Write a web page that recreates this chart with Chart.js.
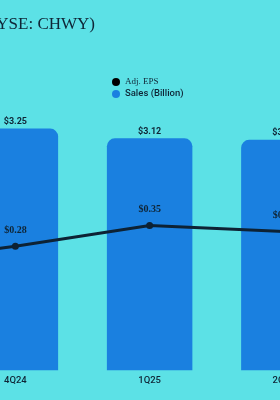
<!DOCTYPE html>
<html>
<head>
<meta charset="utf-8">
<script src="https://cdn.jsdelivr.net/npm/chart.js@4"></script>
<style>
    html, body { margin: 0; padding: 0; width: 280px; height: 400px; overflow: hidden; background: #5ce1e6; }
    #salesChart { position: absolute; left: -190px; top: 0; }
</style>
</head>
<body>
<canvas id="salesChart" width="545" height="400"></canvas>
<script>
const quarters = ["3Q24", "4Q24", "1Q25", "2Q25"];
const salesBillion = [2.88, 3.25, 3.12, 3.10];
const adjEps = [0.22, 0.28, 0.35, 0.33];
const chartTitle = "Chewy, Inc. (NYSE: CHWY)";
const seriesNames = ["Adj. EPS", "Sales (Billion)"];

const textColor = "#0f2536";
const barColor = "#1a80e0";
const lineColor = "#0d2234";
const shift = 190; // canvas sits 190px left of the window

// title, legend and value labels drawn by hand
const annotate = {
    id: "annotate",
    afterDatasetsDraw(chart) {
        const ctx = chart.ctx;
        ctx.save();
        ctx.fillStyle = textColor;

        // title (right end visible only)
        ctx.font = '17px "Liberation Serif"';
        ctx.textAlign = "right";
        ctx.textBaseline = "alphabetic";
        ctx.fillText(chartTitle, shift + 95, 29);

        // legend
        const legendFonts = ['9px "Liberation Serif"', '500 9.5px Roboto'];
        const legendColors = ["#000000", barColor];
        [82, 94].forEach((y, i) => {
            ctx.beginPath();
            ctx.fillStyle = legendColors[i];
            ctx.arc(shift + 116, y, 4, 0, Math.PI * 2);
            ctx.fill();
            ctx.fillStyle = textColor;
            ctx.font = legendFonts[i];
            ctx.textAlign = "left";
            ctx.textBaseline = "middle";
            ctx.fillText(seriesNames[i], shift + 125, y);
        });

        // value labels
        ctx.textAlign = "center";
        ctx.textBaseline = "middle";
        chart.getDatasetMeta(1).data.forEach((bar, i) => {
            ctx.font = "bold 9px Roboto";
            ctx.fillText("$" + salesBillion[i].toFixed(2), bar.x, bar.y - 7);
        });
        chart.getDatasetMeta(0).data.forEach((pt, i) => {
            ctx.font = 'bold 10px "Liberation Serif"';
            ctx.fillText("$" + adjEps[i].toFixed(2), pt.x, pt.y - 16);
        });
        ctx.restore();
    }
};

new Chart(document.getElementById("salesChart"), {
    type: "bar",
    data: {
        labels: quarters,
        datasets: [
            {
                type: "line",
                label: seriesNames[0],
                data: adjEps,
                yAxisID: "y2",
                borderColor: lineColor,
                borderWidth: 3,
                pointRadius: 3.5,
                pointBackgroundColor: lineColor,
                pointBorderWidth: 0,
                tension: 0,
                order: 0
            },
            {
                label: seriesNames[1],
                data: salesBillion,
                yAxisID: "y",
                backgroundColor: barColor,
                borderRadius: { topLeft: 8, topRight: 8 },
                borderSkipped: "bottom",
                categoryPercentage: 0.8,
                barPercentage: 0.796,
                order: 1
            }
        ]
    },
    options: {
        responsive: false,
        animation: false,
        layout: { padding: { top: 110, bottom: 10, left: 2.5, right: 2.5 } },
        plugins: {
            legend: { display: false },
            title: { display: false },
            tooltip: { enabled: false }
        },
        scales: {
            x: {
                grid: { display: false, drawTicks: false },
                border: { display: false },
                ticks: {
                    color: textColor,
                    padding: 4,
                    font: { family: "Roboto", size: 9.5, weight: "500" }
                }
            },
            y: { display: false, min: 0, max: 3.5 },
            y2: { display: false, min: -0.14, max: 0.74 }
        }
    },
    plugins: [annotate]
});
</script>
</body>
</html>
